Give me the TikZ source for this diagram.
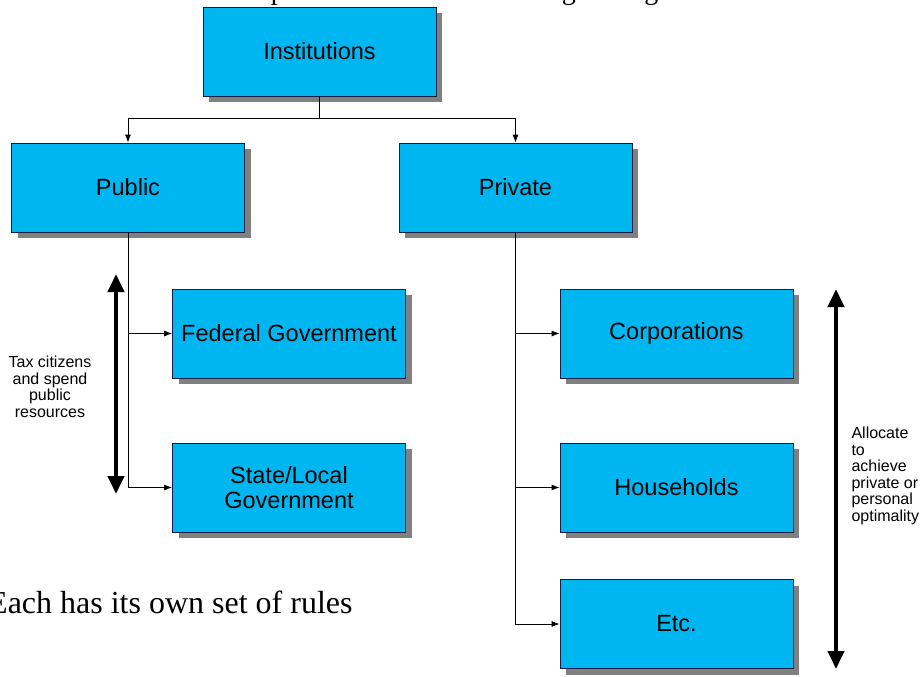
\documentclass[tikz,border=0pt]{standalone}
\usepackage{fontspec}
\setmainfont{Liberation Sans}
\newfontfamily\slidefont{Liberation Serif}
\usetikzlibrary{arrows.meta,shadows}

\definecolor{boxblue}{RGB}{0,182,240}
\definecolor{boxedge}{RGB}{20,30,70}
\definecolor{shadowgray}{RGB}{128,128,128}

\tikzset{
  orgbox/.style={rectangle, draw=boxedge, fill=boxblue, line width=0.8pt,
    minimum width=233pt, minimum height=89pt, align=center,
    font=\fontsize{23.5}{25}\selectfont,
    drop shadow={shadow xshift=6pt, shadow yshift=-6pt, fill=shadowgray, opacity=1}},
  link/.style={line width=0.8pt},
  arr/.style={link, -{Latex[length=8pt,width=6pt]}},
  bigarr/.style={line width=4pt, {Triangle[length=18pt,width=16pt]}-{Triangle[length=18pt,width=16pt]}},
  sidetext/.style={font=\fontsize{16}{16.5}\selectfont}
}

\begin{document}
\begin{tikzpicture}[x=1pt,y=-1pt]
\useasboundingbox (0,0) rectangle (922,677);

% slide title, mostly cut off at the top
\node[font=\slidefont\fontsize{28}{30}\selectfont, anchor=base] (title) at (505,0)
  {The political framework for organizing institutions};

% boxes
\node[orgbox] (inst) at (319.5,51.5) {Institutions};
\node[orgbox] (pub) at (128,187.5) {Public};
\node[orgbox] (priv) at (515.5,187.5) {Private};
\node[orgbox] (fed) at (289,333.5) {Federal Government};
\node[orgbox] (state) at (289,487.5) {State/Local\\Government};
\node[orgbox] (corp) at (676.5,333.5) {Corporations};
\node[orgbox] (house) at (676.5,487.5) {Households};
\node[orgbox] (etc) at (676.5,624) {Etc.};

% tree lines
\coordinate (split) at (319.5,118);
\draw[link] (inst.south) -- (split);
\draw[arr] (split) -| (pub.north);
\draw[arr] (split) -| (priv.north);

\draw[arr] (pub.south) |- (state.west);
\draw[arr] (pub.south |- fed.west) -- (fed.west);

\draw[arr] (priv.south) |- (etc.west);
\draw[arr] (priv.south |- corp.west) -- (corp.west);
\draw[arr] (priv.south |- house.west) -- (house.west);

% side arrows
\coordinate (ltop) at (116,274);
\coordinate (lbot) at (116,494);
\draw[bigarr] (ltop) -- (lbot);
\node[sidetext, align=center] (taxlbl) at (50,387)
  {Tax citizens\\and spend\\public\\resources};

\coordinate (rtop) at (836,289);
\coordinate (rbot) at (836,669);
\draw[bigarr] (rtop) -- (rbot);
\node[sidetext, align=left, anchor=west] (alloclbl) at (848,476)
  {Allocate\\to\\achieve\\private or\\personal\\optimality};

% note
\node[font=\slidefont\fontsize{32}{34}\selectfont, anchor=base west, inner sep=0pt] (rules) at (-12,613)
  {Each has its own set of rules};
\end{tikzpicture}
\end{document}
